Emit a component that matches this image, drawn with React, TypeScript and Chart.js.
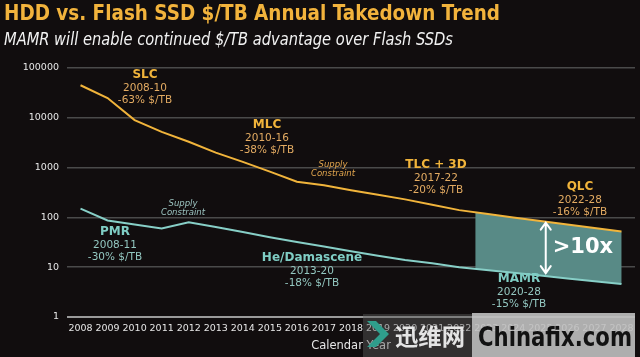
import { useEffect, useRef } from "react";
import { Chart, registerables } from "chart.js";

Chart.register(...registerables);

// ---------- data ----------
const years = [
  "2008", "2009", "2010", "2011", "2012", "2013", "2014", "2015", "2016", "2017", "2018",
  "2019", "2020", "2021", "2022", "2023", "2024", "2025", "2026", "2027", "2028",
];
const flashPrice = [45000, 25000, 9000, 5200, 3300, 2000, 1300, 830, 520, 440, 350, 285, 230, 180, 140, 118, 100, 85, 72, 61, 52];
const hddPrice = [150, 87, 72, 60, 80, 64, 51, 40, 32, 26, 21, 17, 14, 12, 10, 8.8, 7.7, 6.8, 5.9, 5.2, 4.6];
const yTickValues = [1, 10, 100, 1000, 10000, 100000];
const regionStartYear = 2022.6;
const arrowYear = 2025.2;

const TITLE = "HDD vs. Flash SSD $/TB Annual Takedown Trend";
const SUBTITLE = "MAMR will enable continued $/TB advantage over Flash SSDs";

// ---------- styles ----------
const BG = "#110d0e";
const ORANGE = "#f1b43b";
const ORANGE_SUB = "#e3ab62";
const TEAL = "#87cfc7";
const TEAL_HEAD = "#7fcdc4";
const TEAL_SUB = "#93c7c0";
const FILL = "#588a86";
const FONT = "'DejaVu Sans', Verdana, sans-serif";

type Note = { x: number; y: number; head: string; sub: string[]; color: string; subColor: string };
const notes: Note[] = [
  { x: 145, y: 75, head: "SLC", sub: ["2008-10", "-63% $/TB"], color: ORANGE, subColor: ORANGE_SUB },
  { x: 267, y: 125, head: "MLC", sub: ["2010-16", "-38% $/TB"], color: ORANGE, subColor: ORANGE_SUB },
  { x: 436, y: 165, head: "TLC + 3D", sub: ["2017-22", "-20% $/TB"], color: ORANGE, subColor: ORANGE_SUB },
  { x: 580, y: 187, head: "QLC", sub: ["2022-28", "-16% $/TB"], color: ORANGE, subColor: ORANGE_SUB },
  { x: 115, y: 232, head: "PMR", sub: ["2008-11", "-30% $/TB"], color: TEAL_HEAD, subColor: TEAL_SUB },
  { x: 312, y: 258, head: "He/Damascene", sub: ["2013-20", "-18% $/TB"], color: TEAL_HEAD, subColor: TEAL_SUB },
  { x: 519, y: 279, head: "MAMR", sub: ["2020-28", "-15% $/TB"], color: TEAL_HEAD, subColor: TEAL_SUB },
];
const supplyNotes = [
  { x: 333, y: 165, color: "#e2a64e" },
  { x: 183, y: 204, color: "#9cc4c0" },
];

function fitText(ctx: CanvasRenderingContext2D, text: string, x: number, y: number, w: number) {
  const m = ctx.measureText(text).width;
  ctx.save();
  ctx.translate(x, y);
  ctx.scale(w / m, 1);
  ctx.fillText(text, 0, 0);
  ctx.restore();
}

const overlayPlugin = {
  id: "overlay",
  beforeDatasetsDraw(chart: any) {
    const ctx: CanvasRenderingContext2D = chart.ctx;
    const xs = chart.scales.x;
    const area = chart.chartArea;
    const top = chart.getDatasetMeta(1).data;
    const bot = chart.getDatasetMeta(0).data;
    const base = Math.floor(regionStartYear);
    const i0 = years.indexOf(String(base));
    const step = xs.getPixelForValue(1) - xs.getPixelForValue(0);
    const xStart = xs.getPixelForValue(i0) + (regionStartYear - base) * step;
    ctx.save();
    ctx.beginPath();
    ctx.rect(xStart, area.top, area.right - xStart, area.bottom - area.top);
    ctx.clip();
    ctx.beginPath();
    for (let i = i0; i < years.length; i++) {
      const p = top[i];
      if (i === i0) ctx.moveTo(p.x, p.y);
      else ctx.lineTo(p.x, p.y);
    }
    for (let i = years.length - 1; i >= i0; i--) ctx.lineTo(bot[i].x, bot[i].y);
    ctx.closePath();
    ctx.fillStyle = FILL;
    ctx.fill();
    ctx.restore();
  },
  afterDraw(chart: any) {
    const ctx: CanvasRenderingContext2D = chart.ctx;
    const xs = chart.scales.x;
    ctx.save();

    // title and subtitle
    ctx.textAlign = "left";
    ctx.textBaseline = "alphabetic";
    ctx.fillStyle = "#f2b33c";
    ctx.font = `bold 22px ${FONT}`;
    fitText(ctx, TITLE, 4, 20, 496);
    ctx.fillStyle = "#f2f2f2";
    ctx.font = `italic 17px ${FONT}`;
    fitText(ctx, SUBTITLE, 4, 45, 449);

    // annotations
    ctx.textAlign = "center";
    ctx.textBaseline = "middle";
    for (const n of notes) {
      ctx.fillStyle = n.color;
      ctx.font = `bold 12px ${FONT}`;
      ctx.fillText(n.head, n.x, n.y);
      ctx.fillStyle = n.subColor;
      ctx.font = `10.5px ${FONT}`;
      n.sub.forEach((s, k) => ctx.fillText(s, n.x, n.y + 13 + k * 12.5));
    }
    for (const s of supplyNotes) {
      ctx.fillStyle = s.color;
      ctx.font = `italic 8.5px ${FONT}`;
      ctx.fillText("Supply", s.x, s.y);
      ctx.fillText("Constraint", s.x, s.y + 9);
    }

    // arrow between the curves
    const top = chart.getDatasetMeta(1).data;
    const bot = chart.getDatasetMeta(0).data;
    const ab = Math.floor(arrowYear);
    const ai = years.indexOf(String(ab));
    const f = arrowYear - ab;
    const ax = top[ai].x + (top[ai + 1].x - top[ai].x) * f;
    const ay1 = top[ai].y + (top[ai + 1].y - top[ai].y) * f + 1;
    const ay2 = bot[ai].y + (bot[ai + 1].y - bot[ai].y) * f - 3;
    ctx.strokeStyle = "#ffffff";
    ctx.lineWidth = 2;
    ctx.lineCap = "round";
    ctx.beginPath();
    ctx.moveTo(ax, ay1);
    ctx.lineTo(ax, ay2);
    ctx.moveTo(ax - 5, ay1 + 7);
    ctx.lineTo(ax, ay1);
    ctx.lineTo(ax + 5, ay1 + 7);
    ctx.moveTo(ax - 5, ay2 - 7);
    ctx.lineTo(ax, ay2);
    ctx.lineTo(ax + 5, ay2 - 7);
    ctx.stroke();
    ctx.fillStyle = "#ffffff";
    ctx.textAlign = "left";
    ctx.font = `bold 21px ${FONT}`;
    ctx.fillText(">10x", ax + 7, (ay1 + ay2) / 2);

    // watermark
    ctx.fillStyle = "rgba(90,90,90,0.45)";
    ctx.fillRect(363, 314, 109, 43);
    ctx.fillStyle = "rgba(192,192,192,0.9)";
    ctx.fillRect(472, 313, 163, 44);
    ctx.fillStyle = "#2f9e8c";
    ctx.beginPath();
    ctx.moveTo(367, 321);
    ctx.lineTo(376, 321);
    ctx.lineTo(389, 334);
    ctx.lineTo(376, 347);
    ctx.lineTo(367, 347);
    ctx.lineTo(380, 334);
    ctx.closePath();
    ctx.fill();
    ctx.fillStyle = "#e4e4e4";
    ctx.textAlign = "left";
    ctx.font = `bold 23px 'Noto Sans CJK SC', sans-serif`;
    fitText(ctx, "迅维网", 395, 336, 70);
    ctx.fillStyle = "#121212";
    ctx.font = `bold 26px ${FONT}`;
    fitText(ctx, "Chinafix.com", 478, 339, 154);
    ctx.restore();
    void xs;
  },
};

export default function App() {
  const ref = useRef<HTMLCanvasElement | null>(null);
  useEffect(() => {
    if (!ref.current) return;
    const chart = new Chart(ref.current, {
      type: "line",
      data: {
        labels: years,
        datasets: [
          {
            label: "HDD",
            data: hddPrice,
            borderColor: TEAL,
            borderWidth: 2,
            pointRadius: 0,
            tension: 0,
            fill: false,
          },
          {
            label: "Flash SSD",
            data: flashPrice,
            borderColor: ORANGE,
            borderWidth: 2,
            pointRadius: 0,
            tension: 0,
            fill: false,
          },
        ],
      },
      options: {
        responsive: false,
        animation: false,
        layout: { padding: { top: 68, left: 0, right: 5, bottom: 0 } },
        plugins: { legend: { display: false }, tooltip: { enabled: false }, title: { display: false } },
        scales: {
          x: {
            type: "category",
            offset: true,
            grid: { display: false, drawTicks: false },
            border: { display: false },
            ticks: { color: "#e6e6e6", font: { family: FONT, size: 9.5 }, padding: 6, maxRotation: 0, autoSkip: false },
            title: {
              display: true,
              text: "Calendar Year",
              color: "#e6e6e6",
              font: { family: FONT, size: 11.5 },
              padding: { top: 0, bottom: 4 },
            },
            afterFit: (s: any) => {
              s.height = 40;
            },
          },
          y: {
            type: "logarithmic",
            min: 1,
            max: 100000,
            border: { display: false },
            grid: {
              drawTicks: false,
              color: (c: any) => (c.tick && c.tick.value === 1 ? "#9a9a9a" : "#4a4a4a"),
              lineWidth: (c: any) => (c.tick && c.tick.value === 1 ? 2 : 1.5),
            },
            afterBuildTicks: (s: any) => {
              s.ticks = yTickValues.map((v) => ({ value: v }));
            },
            ticks: {
              color: "#e6e6e6",
              font: { family: FONT, size: 9.5 },
              padding: 8,
              callback: (v: any) => String(v),
            },
            afterFit: (s: any) => {
              s.width = 67;
            },
          },
        },
      },
      plugins: [overlayPlugin],
    });
    return () => chart.destroy();
  }, []);
  return (
    <div style={{ position: "absolute", left: 0, top: 0, width: 640, height: 357, background: BG }}>
      <canvas ref={ref} width={640} height={357} style={{ display: "block" }} />
    </div>
  );
}
